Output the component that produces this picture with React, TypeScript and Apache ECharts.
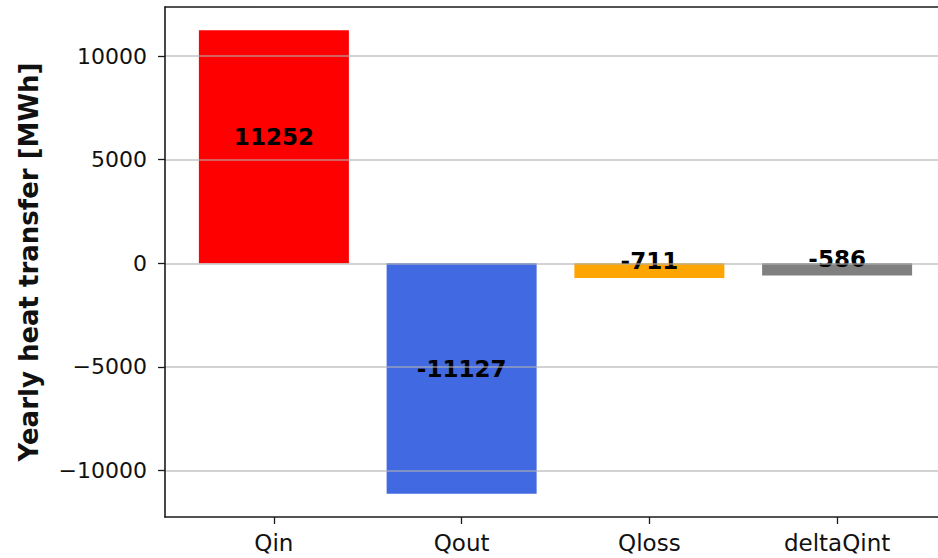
import React, { useEffect, useRef } from "react";
import * as echarts from "echarts";

// Yearly heat balance terms
const categories = ["Qin", "Qout", "Qloss", "deltaQint"];
const values = [11252, -11127, -711, -586];
const barColors = ["#ff0000", "#4169e1", "#ffa500", "#808080"];
const yTicks = [-10000, -5000, 0, 5000, 10000];
const xTicks = [0, 1, 2, 3];

const FONT = "DejaVu Sans";

export default function App() {
  const ref = useRef<HTMLDivElement>(null);

  useEffect(() => {
    if (!ref.current) return;
    const chart = echarts.init(ref.current, null, { renderer: "svg" });

    const axisLine = { show: true, lineStyle: { color: "#1a1a1a", width: 1.6 } };
    const tickStyle = { color: "#1a1a1a", width: 1.3 };

    chart.setOption({
      animation: false,
      backgroundColor: "#ffffff",
      // plot area runs past the right edge of the view
      grid: { left: 165, top: 7, width: 781, bottom: 41, containLabel: false },
      xAxis: [
        {
          type: "value",
          min: -0.58,
          max: 3.58,
          position: "bottom",
          axisLine: { ...axisLine, onZero: false },
          axisTick: { show: true, length: 7, lineStyle: tickStyle, customValues: xTicks },
          axisLabel: {
            customValues: xTicks,
            formatter: (v: number) => categories[Math.round(v)] ?? "",
            color: "#111",
            fontFamily: FONT,
            fontSize: 23,
            margin: 14,
          },
          splitLine: { show: false },
        },
        {
          type: "value",
          min: -0.58,
          max: 3.58,
          position: "top",
          axisLine: { ...axisLine, onZero: false },
          axisTick: { show: false },
          axisLabel: { show: false },
          splitLine: { show: false },
        },
      ],
      yAxis: {
        type: "value",
        min: -12246,
        max: 12371,
        z: 5,
        name: "Yearly heat transfer [MWh]",
        nameLocation: "middle",
        nameGap: 123,
        nameTextStyle: { fontFamily: FONT, fontWeight: "bold", fontSize: 26, color: "#111" },
        axisLine: { ...axisLine, onZero: false },
        axisTick: { show: true, length: 7, lineStyle: tickStyle, customValues: yTicks },
        axisLabel: {
          customValues: yTicks,
          formatter: (v: number) => String(v).replace("-", "\u2212"),
          color: "#111",
          fontFamily: FONT,
          fontSize: 22,
          margin: 18,
        },
        splitLine: { show: true, lineStyle: { color: "rgba(176,176,176,0.75)", width: 1.5 } },
      },
      series: [
        {
          type: "bar",
          barWidth: 150,
          data: values.map((v, i) => ({
            value: [xTicks[i], v],
            itemStyle: { color: barColors[i] },
          })),
          label: {
            show: true,
            position: "inside",
            offset: [0, -10],
            formatter: (p: any) => String(p.value[1]),
            color: "#000",
            fontFamily: FONT,
            fontWeight: "bold",
            fontSize: 23,
          },
        },
      ],
    });

    return () => chart.dispose();
  }, []);

  return (
    <div
      style={{
        position: "fixed",
        left: 0,
        top: 0,
        width: 938,
        height: 558,
        overflow: "hidden",
        background: "#ffffff",
      }}
    >
      <div ref={ref} style={{ width: 960, height: 558 }} />
    </div>
  );
}
